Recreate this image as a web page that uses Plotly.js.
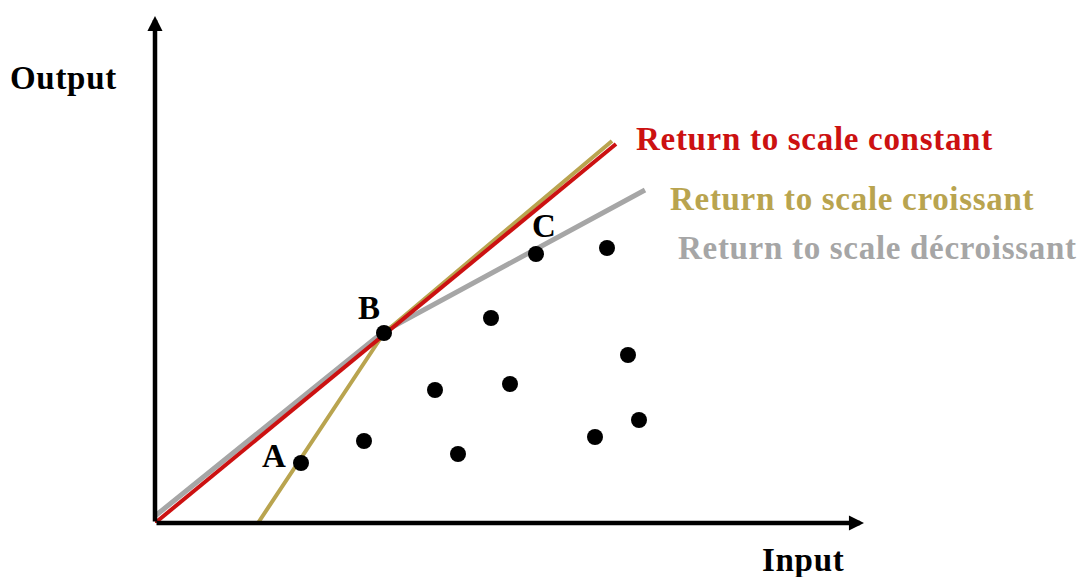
<!DOCTYPE html>
<html>
<head>
<meta charset="utf-8">
<script src="https://cdn.plot.ly/plotly-3.0.1.min.js"></script>
<style>
html,body{margin:0;padding:0;background:#fff;}
#chart{width:1081px;height:577px;}
.annotation-text{letter-spacing:0.7px;}
</style>
</head>
<body>
<div id="chart"></div>
<script>
// Data (input, output) in arbitrary units
const pointX = [14.6, 22.9, 38.1, 45.2, 33.6, 47.3, 28.0, 35.5, 20.9, 30.3, 44.0, 48.4];
const pointY = [6.0, 19.0, 26.9, 27.5, 20.5, 16.8, 13.3, 13.9, 8.2, 6.9, 8.6, 10.3];
const pointLabels = ["A", "B", "C"];
const pointLabelX = [11.9, 21.4, 38.9];
const pointLabelY = [6.7, 21.5, 29.7];

const constantX = [0, 46.1];
const constantY = [0, 37.9];
const croissantX = [10.3, 22.9, 45.7];
const croissantY = [0, 19.0, 38.2];
const decroissantX = [-0.3, 22.8, 49.0];
const decroissantY = [0.45, 19.1, 33.3];

const seriesNames = ["Return to scale constant", "Return to scale croissant", "Return to scale décroissant"];
const seriesLabelX = [47.9, 51.3, 52.1];
const seriesLabelY = [38.4, 32.4, 27.5];
const seriesColors = ["#CC1111", "#B9A44F", "#A6A6A6"];

const axisTitles = ["Input", "Output"];

const FONT = "Liberation Serif, Times New Roman, serif";
const FS = 33;

const traces = [
  {x: decroissantX, y: decroissantY, mode: "lines", line: {color: seriesColors[2], width: 5}, cliponaxis: false, hoverinfo: "skip"},
  {x: croissantX, y: croissantY, mode: "lines", line: {color: seriesColors[1], width: 4}, cliponaxis: false, hoverinfo: "skip"},
  {x: constantX, y: constantY, mode: "lines", line: {color: seriesColors[0], width: 4}, cliponaxis: false, hoverinfo: "skip"},
  {x: pointX, y: pointY, mode: "markers", marker: {color: "#000", size: 16}, cliponaxis: false}
];

const annotations = [];
// axes arrows
annotations.push({x: 70.9, y: 0, ax: 0, ay: 0, xref: "x", yref: "y", axref: "x", ayref: "y",
  showarrow: true, arrowhead: 2, arrowsize: 0.67, arrowwidth: 4.5, arrowcolor: "#000", text: "", standoff: 0});
annotations.push({x: 0, y: 50.7, ax: 0, ay: 0, xref: "x", yref: "y", axref: "x", ayref: "y",
  showarrow: true, arrowhead: 2, arrowsize: 0.67, arrowwidth: 4.5, arrowcolor: "#000", text: "", standoff: 0});
// axis titles (paper coordinates, outside the plot area)
annotations.push({x: 0.6998, y: -0.0707, xref: "paper", yref: "paper", text: "<b>" + axisTitles[0] + "</b>", showarrow: false,
  font: {family: FONT, size: FS, color: "#000"}, xanchor: "center", yanchor: "middle"});
annotations.push({x: -0.0983, y: 0.851, xref: "paper", yref: "paper", text: "<b>" + axisTitles[1] + "</b>", showarrow: false,
  font: {family: FONT, size: FS, color: "#000"}, xanchor: "center", yanchor: "middle"});
// point labels
pointLabels.forEach((t, i) => annotations.push({x: pointLabelX[i], y: pointLabelY[i], xref: "x", yref: "y",
  text: "<b>" + t + "</b>", showarrow: false, font: {family: FONT, size: FS, color: "#000"}, xanchor: "center", yanchor: "middle"}));
// series labels
seriesNames.forEach((t, i) => annotations.push({x: seriesLabelX[i], y: seriesLabelY[i], xref: "x", yref: "y",
  text: "<b>" + t + "</b>", showarrow: false, font: {family: FONT, size: FS, color: seriesColors[i]}, xanchor: "left", yanchor: "middle"}));

const layout = {
  width: 1081, height: 577,
  margin: {l: 155, r: 0, t: 0, b: 54, pad: 0},
  paper_bgcolor: "#fff", plot_bgcolor: "#fff",
  showlegend: false,
  xaxis: {range: [0, 92.6], visible: false, fixedrange: true},
  yaxis: {range: [0, 52.3], visible: false, fixedrange: true},
  annotations: annotations
};

Plotly.newPlot("chart", traces, layout, {displayModeBar: false, staticPlot: true});
</script>
</body>
</html>
